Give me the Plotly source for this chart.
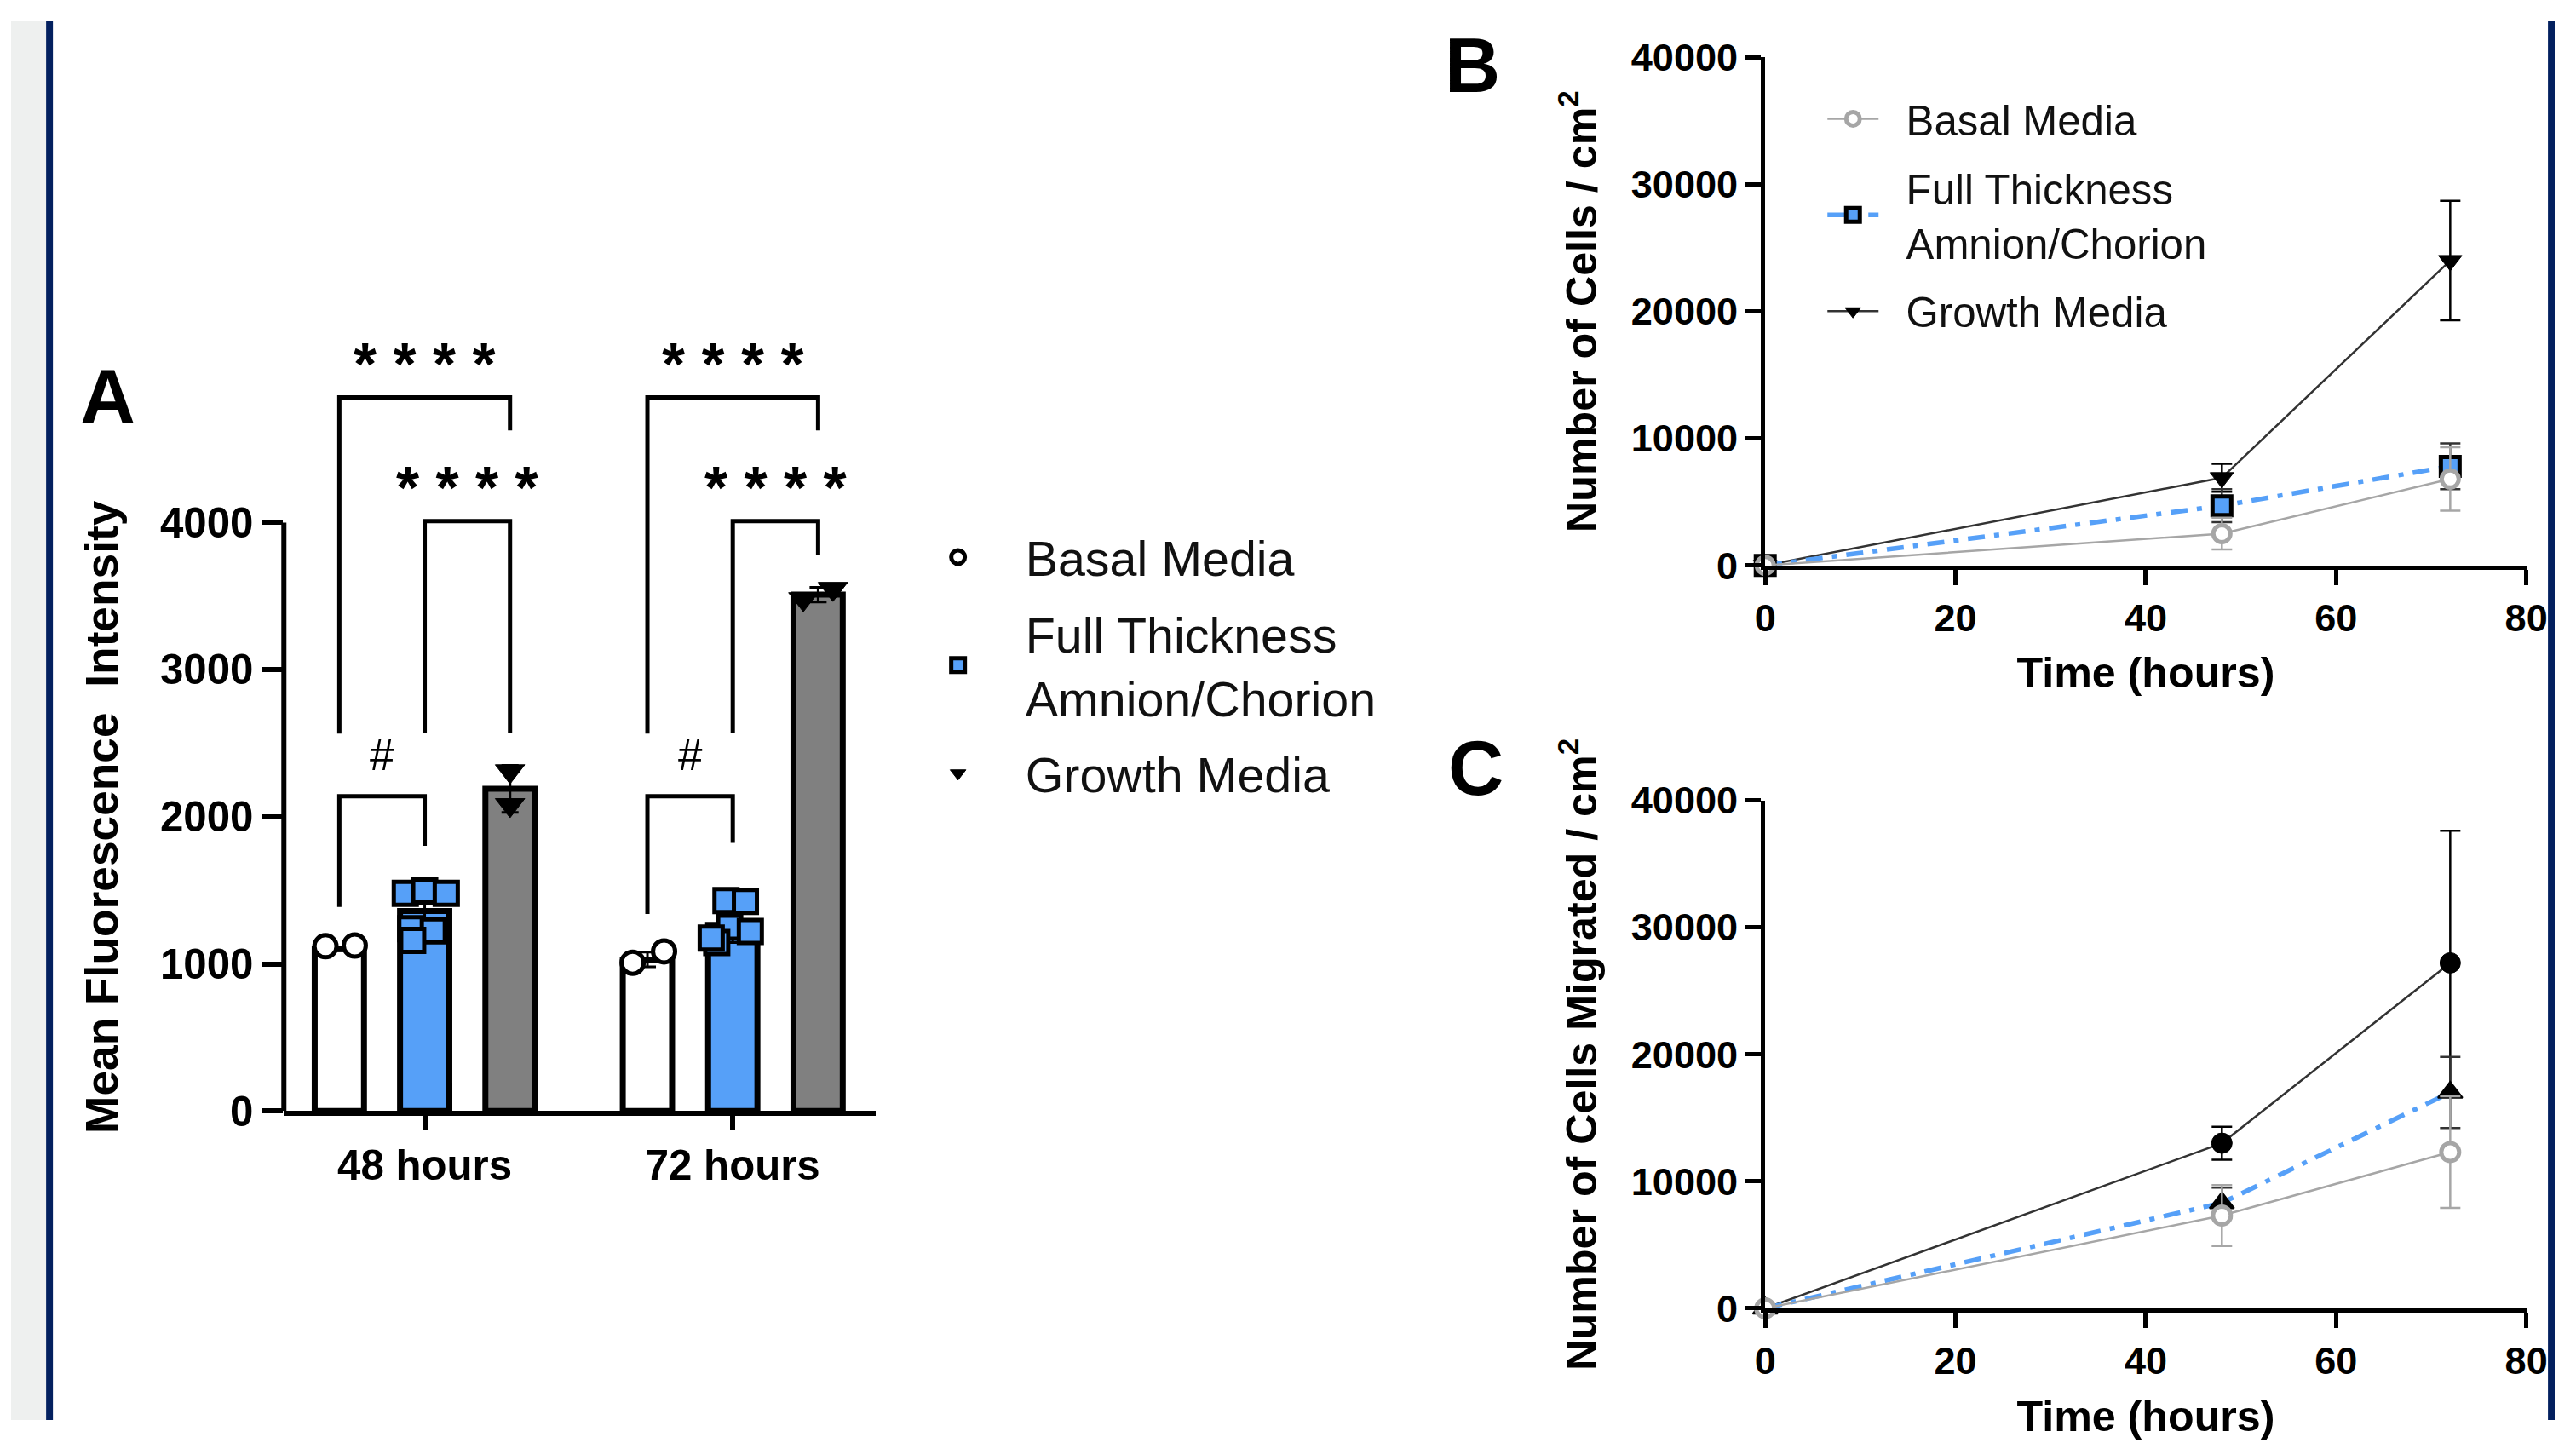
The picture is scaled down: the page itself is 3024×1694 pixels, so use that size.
import plotly.graph_objects as go

# ---------------- Panel A data (Mean Fluorescence Intensity) ----------------
groups = ["48 hours", "72 hours"]
series_names = ["Basal Media", "Full Thickness<br>Amnion/Chorion", "Growth Media"]

bar_basal = [1100, 1030]
bar_full = [1360, 1265]
bar_growth = [2190, 3510]
sd_basal = [10, 50]
sd_full = [150, 120]
sd_growth = [160, 50]

pts_basal = [[1120, 1125], [1008, 1085]]
pts_full = [[1480, 1495, 1480, 1240, 1225, 1160], [1430, 1425, 1250, 1220, 1145, 1175]]
pts_growth = [[2310, 2080], [3480, 3550]]

sig_pairs = [(0, 2), (1, 2), (0, 1)]
sig_labels = ["* * * *", "* * * *", "#"]
sig_bar_y = [4850, 4010, 2140]
sig_left_end = [[2565, 2572, 1387], [2565, 2572, 1339]]
sig_right_end = [[4626, 2572, 1803], [4626, 3779, 1822]]

a_yticks = [0, 1000, 2000, 3000, 4000]
a_ytitle = "Mean Fluorescence\u00a0\u00a0Intensity"

# ---------------- Panel B data (proliferation) ----------------
time_hours = [0, 48, 72]
prolif_basal = [0, 2500, 6800]
prolif_basal_sd = [0, 1250, 2500]
prolif_full = [0, 4700, 7800]
prolif_full_sd = [0, 1300, 1800]
prolif_growth = [0, 6900, 24000]
prolif_growth_sd = [0, 1100, 4700]

# ---------------- Panel C data (migration) ----------------
mig_basal = [0, 7300, 12300]
mig_basal_sd = [0, 2400, 4400]
mig_full = [0, 8300, 17000]
mig_full_sd = [0, 1200, 2800]
mig_growth = [0, 13000, 27200]
mig_growth_sd = [0, 1300, 10400]

line_names = ["Basal Media", "Full Thickness<br>Amnion/Chorion", "Growth Media"]

# ---------------- styles ----------------
W, H = 3024, 1694
# the photographed page is framed slightly; these map target pixels to figure pixels
OX, SX = 13.9, 0.9869
OY, SY = 25.1, 0.969
FS = 1.025
FONT = "Liberation Sans, Arial, Helvetica, sans-serif"
BLUE = "#56a0f8"
GREY_BAR = "#808080"
GREY_LINE = "#a6a6a6"
NAVY = "#03205f"
series_offset = [-0.277, 0.0, 0.277]
BAR_W = 0.16
jitter = [
    [[-0.045, 0.05], [-0.048, 0.054]],
    [[-0.063, 0.0, 0.07, -0.045, 0.028, -0.039], [-0.022, 0.041, -0.01, 0.057, -0.052, -0.07]],
    [[0.0, 0.0], [-0.048, 0.048]],
]
PAD = "\u00a0\u00a0"


def px_x(p):
    return max(0.0, min(1.0, (p - OX) / SX / W))


def px_y(p):
    return max(0.0, min(1.0, 1 - (p - OY) / SY / H))


def fs(s):
    return round(s * FS, 1)


def padded(name):
    return "<br>".join(PAD + part for part in name.split("<br>"))


fig = go.Figure()

# ---- Panel A bars ----
bar_sets = [(bar_basal, sd_basal, "white"), (bar_full, sd_full, BLUE), (bar_growth, sd_growth, GREY_BAR)]
for si, (means, sds, col) in enumerate(bar_sets):
    fig.add_trace(go.Bar(
        x=[gi + series_offset[si] for gi in range(len(groups))], y=means, width=BAR_W,
        marker=dict(color=col, line=dict(color="black", width=7)),
        error_y=dict(type="data", array=sds, color="black", thickness=3, width=10),
        showlegend=False, xaxis="x", yaxis="y", hoverinfo="skip",
    ))

# ---- Panel A points ----
pt_sets = [
    (pts_basal, dict(symbol="circle", size=26, color="white", line=dict(color="black", width=5))),
    (pts_full, dict(symbol="square", size=27, color=BLUE, line=dict(color="black", width=5))),
    (pts_growth, dict(symbol="triangle-down", size=30, color="black", line=dict(color="black", width=1))),
]
for si, (pts, mk) in enumerate(pt_sets):
    xs, ys = [], []
    for gi in range(len(groups)):
        for j, v in enumerate(pts[gi]):
            xs.append(gi + series_offset[si] + jitter[si][gi][j])
            ys.append(v)
    fig.add_trace(go.Scatter(
        x=xs, y=ys, mode="markers", marker=mk, name=series_names[si],
        legend="legend", legendgroup=f"a{si}", showlegend=True, cliponaxis=False,
        xaxis="x", yaxis="y",
    ))

# ---- Panels B & C lines ----
line_styles = [
    dict(line=dict(color=GREY_LINE, width=2.5),
         marker=dict(symbol="circle", size=20, color="white", line=dict(color=GREY_LINE, width=5)),
         err=GREY_LINE),
    dict(line=dict(color=BLUE, width=5.5, dash="20px,11px,6px,11px"),
         marker=dict(symbol="square", size=22, color=BLUE, line=dict(color="black", width=5)),
         err="#333333"),
    dict(line=dict(color="#333333", width=2.5),
         marker=dict(symbol="triangle-down", size=24, color="black", line=dict(color="black", width=1)),
         err="black"),
]
c_markers = [
    dict(symbol="circle", size=21, color="white", line=dict(color=GREY_LINE, width=5)),
    dict(symbol="triangle-up", size=25, color="black", line=dict(color="black", width=2)),
    dict(symbol="circle", size=24, color="black", line=dict(color="black", width=1)),
]
b_sets = [(prolif_basal, prolif_basal_sd), (prolif_full, prolif_full_sd), (prolif_growth, prolif_growth_sd)]
c_sets = [(mig_basal, mig_basal_sd), (mig_full, mig_full_sd), (mig_growth, mig_growth_sd)]
for si in [2, 1, 0]:
    st = line_styles[si]
    vals, sds = b_sets[si]
    fig.add_trace(go.Scatter(
        x=time_hours, y=vals, mode="lines+markers", name=padded(line_names[si]),
        line=st["line"], marker=st["marker"],
        error_y=dict(type="data", array=sds, color=st["err"], thickness=2.5, width=12),
        legend="legend2", legendgroup=f"b{si}", legendrank=si + 1, showlegend=True,
        cliponaxis=False, xaxis="x2", yaxis="y2",
    ))
for si in [2, 1, 0]:
    st = line_styles[si]
    vals, sds = c_sets[si]
    fig.add_trace(go.Scatter(
        x=time_hours, y=vals, mode="lines+markers", name=line_names[si],
        line=st["line"], marker=c_markers[si],
        error_y=dict(type="data", array=sds, color=st["err"], thickness=2.5, width=12),
        showlegend=False, cliponaxis=False, xaxis="x3", yaxis="y3",
    ))

shapes = []
annotations = []

# background strips
shapes.append(dict(type="rect", xref="paper", yref="paper", x0=0, x1=px_x(55), y0=0, y1=1,
                   fillcolor="#eef0ef", line=dict(width=0), layer="below"))
shapes.append(dict(type="rect", xref="paper", yref="paper", x0=px_x(55), x1=px_x(63), y0=0, y1=1,
                   fillcolor=NAVY, line=dict(width=0), layer="below"))
shapes.append(dict(type="rect", xref="paper", yref="paper", x0=1 - 8 / W, x1=1, y0=0, y1=1,
                   fillcolor=NAVY, line=dict(width=0), layer="below"))

# Panel A y axis line (0..4000 only)
shapes.append(dict(type="line", xref="x domain", yref="y", x0=0, x1=0, y0=0, y1=a_yticks[-1],
                   line=dict(color="black", width=6)))

# significance brackets
for gi in range(len(groups)):
    for k, (a, b) in enumerate(sig_pairs):
        xl = gi + series_offset[a]
        xr = gi + series_offset[b]
        h = sig_bar_y[k]
        path = f"M{xl},{sig_left_end[gi][k]} L{xl},{h} L{xr},{h} L{xr},{sig_right_end[gi][k]}"
        shapes.append(dict(type="path", xref="x", yref="y", path=path,
                           line=dict(color="black", width=5)))
        is_hash = sig_labels[k] == "#"
        annotations.append(dict(
            x=(xl + xr) / 2, y=h, xref="x", yref="y", text=sig_labels[k], showarrow=False,
            yanchor="bottom", xanchor="center", yshift=18 if is_hash else -2,
            font=dict(family=FONT, size=fs(50) if is_hash else fs(68), color="black",
                      weight="normal" if is_hash else "bold"),
        ))

title_font = dict(family=FONT, size=fs(49), color="black", weight="bold")

# Panel A y title, centred on the 0..4000 axis line
annotations.append(dict(x=px_x(121), y=(a_yticks[0] + a_yticks[-1]) / 2, xref="paper", yref="y",
                        text=a_ytitle, textangle=-90, showarrow=False,
                        xanchor="center", yanchor="middle",
                        font=dict(family=FONT, size=fs(52), color="black", weight="bold")))

# panel letters
for letter, (cx, cy) in zip(["A", "B", "C"], [(127, 465), (1728, 77), (1732, 901)]):
    annotations.append(dict(x=px_x(cx), y=px_y(cy), xref="paper", yref="paper", text=letter,
                            showarrow=False, xanchor="center", yanchor="middle",
                            font=dict(family=FONT, size=fs(88), color="black", weight="bold")))

tick_font_a = dict(family=FONT, size=fs(48), color="black", weight="bold")
tick_font_bc = dict(family=FONT, size=fs(44), color="black", weight="bold")

fig.update_layout(
    width=W, height=H, margin=dict(l=0, r=0, t=0, b=0),
    paper_bgcolor="white", plot_bgcolor="rgba(0,0,0,0)",
    barmode="overlay", hovermode=False,
    shapes=shapes, annotations=annotations,
    xaxis=dict(domain=[px_x(334), px_x(1028)], range=[-0.457, 1.463], anchor="y",
               tickmode="array", tickvals=list(range(len(groups))), ticktext=groups,
               ticks="outside", ticklen=16, tickwidth=6, tickcolor="black",
               showline=True, linewidth=6, linecolor="black", showgrid=False, zeroline=False,
               tickfont=tick_font_a),
    yaxis=dict(domain=[px_y(1304), px_y(268)], range=[0, 6000], anchor="x",
               tickmode="array", tickvals=a_yticks, tickformat="d",
               ticks="outside", ticklen=25, tickwidth=6, tickcolor="black",
               showline=False, showgrid=False, zeroline=False, tickfont=tick_font_a),
    xaxis2=dict(domain=[px_x(2072), px_x(2965)], range=[0, 80], anchor="y2", dtick=20,
                ticks="outside", ticklen=18, tickwidth=5, tickcolor="black",
                showline=True, linewidth=5, linecolor="black", showgrid=False, zeroline=False,
                tickfont=tick_font_bc,
                title=dict(text="Time (hours)", font=title_font, standoff=24)),
    yaxis2=dict(domain=[px_y(663.6), px_y(67.5)], range=[0, 40000], anchor="x2", dtick=10000,
                tickformat="d", ticks="outside", ticklen=18, tickwidth=5, tickcolor="black",
                showline=True, linewidth=5, linecolor="black", showgrid=False, zeroline=False,
                tickfont=tick_font_bc,
                title=dict(text="Number of Cells / cm<sup>2</sup>", font=title_font, standoff=26)),
    xaxis3=dict(domain=[px_x(2072), px_x(2965)], range=[0, 80], anchor="y3", dtick=20,
                ticks="outside", ticklen=18, tickwidth=5, tickcolor="black",
                showline=True, linewidth=5, linecolor="black", showgrid=False, zeroline=False,
                tickfont=tick_font_bc,
                title=dict(text="Time (hours)", font=title_font, standoff=24)),
    yaxis3=dict(domain=[px_y(1535.5), px_y(939.4)], range=[0, 40000], anchor="x3", dtick=10000,
                tickformat="d", ticks="outside", ticklen=18, tickwidth=5, tickcolor="black",
                showline=True, linewidth=5, linecolor="black", showgrid=False, zeroline=False,
                tickfont=tick_font_bc,
                title=dict(text="Number of Cells Migrated / cm<sup>2</sup>", font=title_font, standoff=26)),
    legend=dict(x=px_x(1046), y=px_y(610), xanchor="left", yanchor="top",
                font=dict(family=FONT, size=fs(56), color="#111111"), bgcolor="rgba(0,0,0,0)",
                itemwidth=148, tracegroupgap=12),
    legend2=dict(x=px_x(2140), y=px_y(101), xanchor="left", yanchor="top",
                 font=dict(family=FONT, size=fs(48), color="#111111"), bgcolor="rgba(0,0,0,0)",
                 itemwidth=60, tracegroupgap=14, traceorder="grouped"),
)

pin_js = (
    "document.documentElement.style.margin='0';document.documentElement.style.padding='0';"
    "document.documentElement.style.overflow='hidden';"
    "document.body.style.margin='0';document.body.style.padding='0';document.body.style.overflow='hidden';"
    "var gd=document.querySelector('.plotly-graph-div');"
    "if(gd){gd.style.position='fixed';gd.style.left='0px';gd.style.top='0px';}"
)
fig.write_html("out.html", config={"displayModeBar": False}, post_script=pin_js)
